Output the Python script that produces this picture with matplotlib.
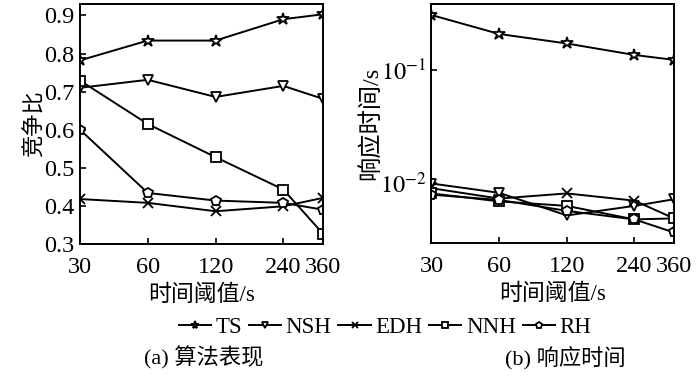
import matplotlib
matplotlib.use("Agg")
import matplotlib.pyplot as plt
from matplotlib.ticker import FixedLocator, FixedFormatter, NullLocator

plt.rcParams['font.family'] = ['Liberation Serif', 'Noto Sans CJK SC']
plt.rcParams['mathtext.fontset'] = 'stix'

thresholds = [30, 60, 120, 240, 360]
tick_labels = ['30', '60', '120', '240', '360']
names = ['TS', 'NSH', 'EDH', 'NNH', 'RH']
markers = ['*', 'v', 'x', 's', 'p']

# (a) competitive ratio
ratio_ts = [0.782, 0.834, 0.834, 0.890, 0.903]
ratio_nsh = [0.710, 0.731, 0.686, 0.715, 0.681]
ratio_edh = [0.418, 0.408, 0.386, 0.399, 0.421]
ratio_nnh = [0.729, 0.615, 0.528, 0.443, 0.327]
ratio_rh = [0.600, 0.434, 0.414, 0.408, 0.390]

# (b) response time (s)
resp_ts = [0.308, 0.209, 0.172, 0.136, 0.123]
resp_nsh = [0.0098, 0.0081, 0.0051, 0.0062, 0.0071]
resp_edh = [0.0089, 0.0072, 0.0080, 0.0069, 0.0048]
resp_nnh = [0.0080, 0.0068, 0.0062, 0.0047, 0.0048]
resp_rh = [0.0078, 0.0070, 0.0056, 0.0047, 0.0036]

ratios = [ratio_ts, ratio_nsh, ratio_edh, ratio_nnh, ratio_rh]
resps = [resp_ts, resp_nsh, resp_edh, resp_nnh, resp_rh]

fig = plt.figure(figsize=(7.0, 3.83), dpi=100)
ax1 = fig.add_axes([0.1143, 0.3629, 0.3471, 0.6267])
ax2 = fig.add_axes([0.6164, 0.3655, 0.3465, 0.6241])

handles = []
for name, m, ys in zip(names, markers, ratios):
    ms = 9 if m == '*' else 7
    h, = ax1.plot(thresholds, ys, color='black', lw=1.4, marker=m, ms=ms,
                  mfc='white', mec='black', mew=1.3, label=name)
    handles.append(h)
for name, m, ys in zip(names, markers, resps):
    ms = 9 if m == '*' else 7
    ax2.plot(thresholds, ys, color='black', lw=1.4, marker=m, ms=ms,
             mfc='white', mec='black', mew=1.3)

for ax in (ax1, ax2):
    ax.set_xscale('log')
    ax.set_xlim(30, 360)
    ax.xaxis.set_major_locator(FixedLocator(thresholds))
    ax.xaxis.set_major_formatter(FixedFormatter(tick_labels))
    ax.xaxis.set_minor_locator(NullLocator())
    ax.tick_params(direction='in', length=4, width=1.2, labelsize=17.5, pad=4)
    ax.tick_params(axis='x', pad=9)
    for s in ax.spines.values():
        s.set_linewidth(1.4)
    ax.set_xlabel('时间阈值/s', fontsize=16.5, labelpad=5)

ax1.set_ylim(0.3, 0.93)
ax1.set_yticks([0.3, 0.4, 0.5, 0.6, 0.7, 0.8, 0.9])
ax1.set_ylabel('竞争比', fontsize=16, labelpad=-1)

ax2.set_yscale('log')
ax2.set_ylim(0.0029, 0.386)
ax2.set_yticks([0.01, 0.1])
ax2.set_yticklabels([r'$10^{-2}$', r'$10^{-1}$'])
ax2.yaxis.set_minor_locator(NullLocator())
ax2.set_ylabel('响应时间/s', fontsize=17.5, labelpad=-2)

fig.legend(handles=handles, loc='center', bbox_to_anchor=(385 / 700, 1 - 327 / 383),
           ncol=5, frameon=False, fontsize=16.5, handlelength=1.4, handletextpad=0.2,
           columnspacing=0.3, markerscale=0.65)

fig.text(204 / 700, 1 - 358 / 383, '(a) 算法表现', ha='center', va='center', fontsize=16)
fig.text(565 / 700, 1 - 358 / 383, '(b) 响应时间', ha='center', va='center', fontsize=16)

fig.savefig('out.png', dpi=100)
